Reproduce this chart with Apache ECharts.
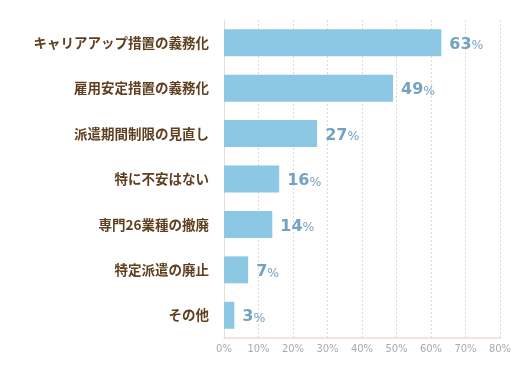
<!DOCTYPE html>
<html><head><meta charset="utf-8">
<script src="https://cdn.jsdelivr.net/npm/echarts@6/dist/echarts.min.js"></script>
<style>html,body{margin:0;padding:0;background:#fff}#c{width:530px;height:372px}</style>
</head><body><div id="c"></div>
<script>
const categories = ["キャリアアップ措置の義務化","雇用安定措置の義務化","派遣期間制限の見直し","特に不安はない","専門26業種の撤廃","特定派遣の廃止","その他"];
const values = [63,49,27,16,14,7,3];
const tickValues = [0,10,20,30,40,50,60,70,80];

const chart = echarts.init(document.getElementById('c'), null, {renderer:'canvas'});
chart.setOption({
  animation:false,
  grid:{left:224,right:30,top:20,bottom:34,containLabel:false},
  xAxis:{type:'value',min:0,max:80,interval:10,
    axisLine:{show:true,lineStyle:{color:'#ecdcd2',width:1.5}},
    axisTick:{show:false},
    splitLine:{show:true,lineStyle:{color:'#e6d6cc',type:[2,2],width:1}},
    axisLabel:{formatter:'{value}%',color:'#aaaaaa',fontSize:10,fontFamily:'Verdana, DejaVu Sans, sans-serif',margin:6}
  },
  yAxis:{type:'category',data:categories,inverse:true,
    axisLine:{show:true,lineStyle:{color:'#ecdcd2'}},axisTick:{show:false},
    axisLabel:{color:'#5e3f1f',fontSize:13.5,fontWeight:'bold',fontFamily:'Noto Sans CJK JP, sans-serif',margin:15}
  },
  series:[{type:'bar',data:values,barWidth:27,
    itemStyle:{color:'#8cc7e3'},
    label:{show:true,position:'right',distance:8,offset:[0,2],
      formatter:p=>'{n|'+p.value+'}{p|%}',
      rich:{n:{fontSize:16,fontWeight:'bold',color:'#74a2c2',fontFamily:'DejaVu Sans, sans-serif'},
            p:{fontSize:12.5,color:'#74a2c2',fontFamily:'DejaVu Sans, sans-serif',padding:[3,0,0,0]}}
    }
  }]
});
</script></body></html>
